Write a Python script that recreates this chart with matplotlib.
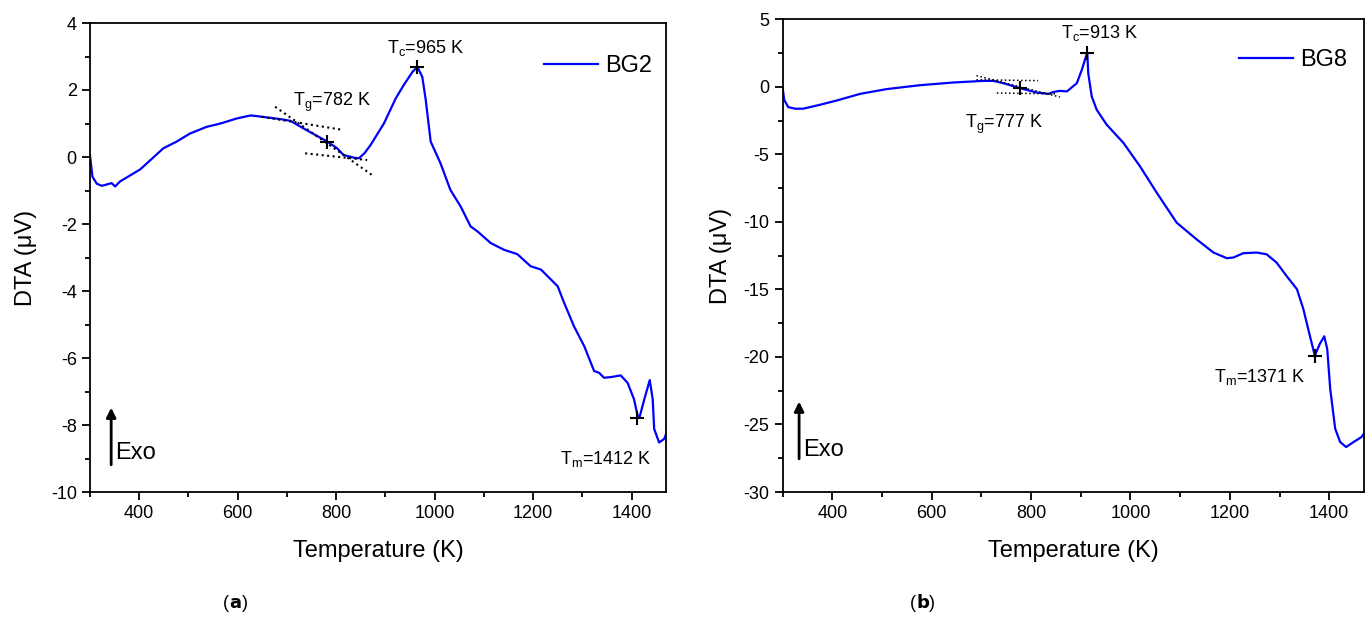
import matplotlib
matplotlib.use("Agg")
import matplotlib.pyplot as plt
from matplotlib.ticker import MultipleLocator, AutoMinorLocator

plt.rcParams['font.family'] = ['Liberation Sans', 'DejaVu Sans']
plt.rcParams['mathtext.fontset'] = 'custom'
plt.rcParams['mathtext.rm'] = 'Liberation Sans'
plt.rcParams['mathtext.it'] = 'Liberation Sans'
plt.rcParams['axes.unicode_minus'] = False

# --- BG2 (panel a) ---
temp_bg2 = [300, 305, 314, 324, 344, 351, 361, 402, 449, 476, 503, 537, 565, 598,
            626, 639, 687, 707, 734, 761, 782, 802, 815, 836, 846, 858, 870, 897,
            921, 937, 955, 965, 975, 982, 992, 1012, 1032, 1053, 1073, 1087, 1114,
            1141, 1168, 1195, 1216, 1250, 1263, 1283, 1304, 1324, 1334, 1344, 1358,
            1378, 1392, 1405, 1412, 1416, 1426, 1437, 1443, 1446, 1456, 1466, 1473]
dta_bg2 = [0.05, -0.59, -0.80, -0.86, -0.78, -0.88, -0.73, -0.37, 0.26, 0.46, 0.70,
           0.90, 1.00, 1.15, 1.24, 1.22, 1.13, 1.08, 0.85, 0.63, 0.46, 0.26, 0.06,
           -0.02, -0.04, 0.12, 0.36, 1.00, 1.75, 2.14, 2.54, 2.69, 2.39, 1.70, 0.46,
           -0.19, -0.98, -1.48, -2.07, -2.22, -2.57, -2.77, -2.90, -3.26, -3.36,
           -3.86, -4.35, -5.05, -5.65, -6.39, -6.44, -6.59, -6.57, -6.52, -6.74,
           -7.23, -7.70, -7.78, -7.23, -6.66, -7.23, -8.12, -8.52, -8.42, -8.17]

# tangent construction lines (Tg)
tan_bg2 = [([649, 809], [1.20, 0.82]),
           ([676, 876], [1.50, -0.57]),
           ([737, 863], [0.11, -0.09])]
marks_bg2 = [(782, 0.46), (965, 2.69), (1412, -7.80)]

# --- BG8 (panel b) ---
temp_bg8 = [300, 303, 311, 325, 341, 375, 409, 456, 509, 576, 643, 704, 724, 744,
            778, 811, 835, 845, 858, 872, 892, 902, 910, 913, 915, 922, 932, 952,
            986, 1019, 1053, 1093, 1133, 1167, 1194, 1207, 1227, 1254, 1274, 1294,
            1314, 1335, 1348, 1361, 1371, 1381, 1390, 1396, 1402, 1412, 1422, 1434,
            1449, 1465, 1472]
dta_bg8 = [-0.10, -0.96, -1.50, -1.62, -1.62, -1.33, -1.01, -0.52, -0.17, 0.12,
           0.32, 0.44, 0.44, 0.27, -0.10, -0.42, -0.52, -0.38, -0.30, -0.34, 0.27,
           1.25, 2.20, 2.50, 1.00, -0.71, -1.70, -2.80, -4.16, -5.88, -7.85,
           -10.06, -11.29, -12.27, -12.69, -12.64, -12.32, -12.27, -12.40, -13.01,
           -14.00, -14.98, -16.46, -18.43, -19.90, -19.04, -18.47, -19.41, -22.36,
           -25.31, -26.30, -26.67, -26.30, -25.93, -25.56]

tan_bg8 = [([690, 814], [0.52, 0.46]),
           ([690, 858], [0.83, -0.76]),
           ([731, 851], [-0.46, -0.52])]
marks_bg8 = [(777, -0.05), (913, 2.50), (1371, -19.90)]

W, H = 1370, 620
fig = plt.figure(figsize=(W / 100, H / 100), dpi=100)


def px_axes(x0, y0, x1, y1):
    return fig.add_axes([x0 / W, 1 - y1 / H, (x1 - x0) / W, (y1 - y0) / H])


def style(ax, ylim, ymajor, ypad):
    ax.set_xlim(300, 1470)
    ax.set_ylim(*ylim)
    ax.xaxis.set_major_locator(MultipleLocator(200))
    ax.xaxis.set_minor_locator(MultipleLocator(100))
    ax.yaxis.set_major_locator(MultipleLocator(ymajor))
    ax.yaxis.set_minor_locator(AutoMinorLocator(2))
    ax.tick_params(which='major', direction='out', length=6, width=1.3, labelsize=13)
    ax.tick_params(which='minor', direction='out', length=3.5, width=1.3)
    for s in ax.spines.values():
        s.set_linewidth(1.3)
    ax.set_xlabel('Temperature (K)', fontsize=17, labelpad=13)
    ax.set_ylabel('DTA (\u03bcV)', fontsize=17, labelpad=ypad)


def draw(ax, temp, dta, tans, marks, name, lw_tan):
    ax.plot(temp, dta, color='#0000ff', lw=1.6, label=name)
    for xs, ys in tans:
        ax.plot(xs, ys, ':', color='black', lw=lw_tan)
    mx = [m[0] for m in marks]
    my = [m[1] for m in marks]
    ax.plot(mx, my, '+', color='black', ms=10, mew=1.5)


# panel (a)
ax1 = px_axes(90, 23, 666, 492)
draw(ax1, temp_bg2, dta_bg2, tan_bg2, marks_bg2, 'BG2', 1.5)
style(ax1, (-10, 4), 2, 10)
ax1.text(713, 1.62, r'T$_\mathrm{g}$=782 K', fontsize=13, va='center')
ax1.text(904, 3.25, r'T$_\mathrm{c}$=965 K', fontsize=13, va='center')
ax1.text(1440, -9.0, r'T$_\mathrm{m}$=1412 K', fontsize=13, va='center', ha='right')
ax1.annotate('', xy=(343, -7.40), xytext=(343, -9.27),
             arrowprops=dict(arrowstyle='-|>', color='black', lw=2, mutation_scale=14))
ax1.text(352, -8.85, 'Exo', fontsize=17, va='center')
ax1.legend(loc='center right', bbox_to_anchor=(0.976, 0.908), frameon=False,
           fontsize=17, handlelength=2.3, handletextpad=0.3, borderaxespad=0, borderpad=0)

# panel (b)
ax2 = px_axes(782.7, 19.3, 1364, 492)
draw(ax2, temp_bg8, dta_bg8, tan_bg8, marks_bg8, 'BG8', 1.1)
style(ax2, (-30, 5), 5, 8)
ax2.text(667, -2.8, r'T$_\mathrm{g}$=777 K', fontsize=13, va='center')
ax2.text(860, 4.0, r'T$_\mathrm{c}$=913 K', fontsize=13, va='center')
ax2.text(1352, -21.5, r'T$_\mathrm{m}$=1371 K', fontsize=13, va='center', ha='right')
ax2.annotate('', xy=(333, -23.1), xytext=(333, -27.75),
             arrowprops=dict(arrowstyle='-|>', color='black', lw=2, mutation_scale=14))
ax2.text(342, -26.9, 'Exo', fontsize=17, va='center')
ax2.legend(loc='center right', bbox_to_anchor=(0.971, 0.913), frameon=False,
           fontsize=17, handlelength=2.3, handletextpad=0.3, borderaxespad=0, borderpad=0)

fig.text(229 / W, 1 - 603 / H, '(', fontsize=13, ha='right', va='center')
fig.text(229 / W, 1 - 603 / H, r'$\mathbf{a}$)', fontsize=13, ha='left', va='center')
fig.text(916 / W, 1 - 603 / H, '(', fontsize=13, ha='right', va='center')
fig.text(916 / W, 1 - 603 / H, r'$\mathbf{b}$)', fontsize=13, ha='left', va='center')

fig.savefig('out.png', dpi=100)
